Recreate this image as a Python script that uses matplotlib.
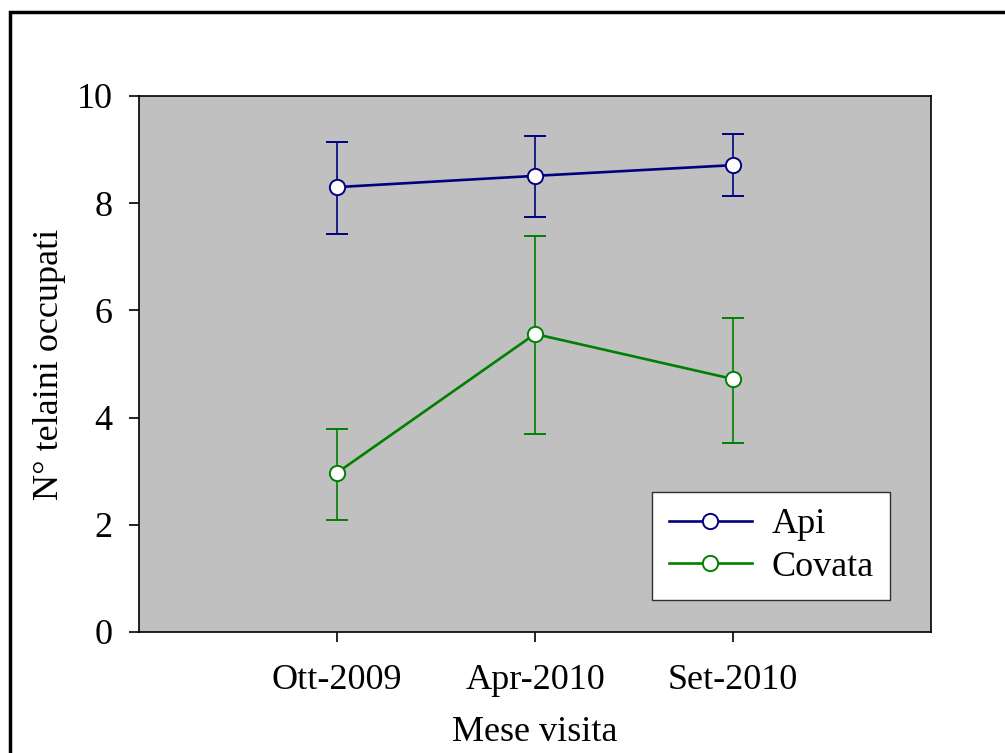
import matplotlib.pyplot as plt
from matplotlib.patches import Rectangle
from matplotlib.lines import Line2D

plt.rcParams['font.family'] = ['Liberation Serif', 'DejaVu Serif']

mesi = ['Ott-2009', 'Apr-2010', 'Set-2010']
api = [8.30, 8.51, 8.71]
api_err_su = [0.84, 0.74, 0.58]
api_err_giu = [0.87, 0.77, 0.58]
covata = [2.97, 5.56, 4.72]
covata_err_su = [0.82, 1.83, 1.14]
covata_err_giu = [0.88, 1.87, 1.19]

blu = '#000080'
verde = '#008000'

fig = plt.figure(figsize=(10.05, 7.53), dpi=100)
ax = fig.add_axes([139/1005, 1-632/753, 792/1005, 536/753])
ax.set_facecolor('#c0c0c0')

x = [1, 2, 3]
ax.errorbar(x, api, yerr=[api_err_giu, api_err_su], color=blu, lw=1.9,
            marker='o', ms=11, mfc='white', mec=blu, mew=1.4,
            ecolor=blu, elinewidth=1.2, capsize=8, capthick=1.2)
ax.errorbar(x, covata, yerr=[covata_err_giu, covata_err_su], color=verde, lw=1.9,
            marker='o', ms=11, mfc='white', mec=verde, mew=1.4,
            ecolor=verde, elinewidth=1.2, capsize=8, capthick=1.2)

ax.set_xlim(0, 4)
ax.set_ylim(0, 10)
ax.set_xticks(x)
ax.set_xticklabels(mesi)
ax.set_yticks([0, 2, 4, 6, 8, 10])
ax.tick_params(labelsize=26, length=7, width=1.2, direction='out')
ax.tick_params(axis='x', pad=16)
ax.tick_params(axis='y', pad=12)
for s in ax.spines.values():
    s.set_linewidth(1.2)

ax.set_xlabel('Mese visita', fontsize=26, labelpad=14)
ax.set_ylabel('N° telaini occupati', fontsize=26, labelpad=8)

maniglie = [Line2D([], [], color=blu, lw=1.9, marker='o', ms=11, mfc='white', mec=blu, mew=1.4),
            Line2D([], [], color=verde, lw=1.9, marker='o', ms=11, mfc='white', mec=verde, mew=1.4)]
leg = ax.legend(maniglie, ['Api', 'Covata'], loc='lower right',
                bbox_to_anchor=(0.948, 0.06), fontsize=26,
                frameon=True, fancybox=False, framealpha=1, facecolor='white',
                edgecolor='#303030', handlelength=2.3, borderpad=0.45,
                labelspacing=0.25, handletextpad=0.55, borderaxespad=0)
leg.get_frame().set_linewidth(1.0)

# cornice della figura
fig.patches.append(Rectangle((10/1005, -0.1), 1.2, 1 - 12/753 + 0.1,
                             transform=fig.transFigure, fill=False,
                             edgecolor='black', linewidth=2.5))

fig.savefig('out.png', dpi=100)
